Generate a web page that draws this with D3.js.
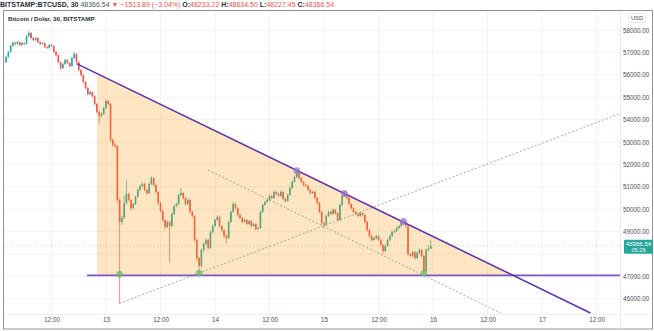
<!DOCTYPE html>
<html><head><meta charset="utf-8">
<script src="https://cdn.jsdelivr.net/npm/d3@7"></script>
<style>body{margin:0;background:#fff;} svg{display:block;font-family:"Liberation Sans",Arial,"DejaVu Sans",sans-serif;}</style>
</head><body><svg id="c" width="654" height="331"></svg>
<script>
// ---------- DATA ----------
const firstBarTime = "2021-05-12T02:00:00Z";   // 30-minute bars
const firstOpen = 56570;
const closes = [
56800,57020,57290,57420,57380,57460,57330,57420,57380,57730,
57870,57640,57550,57640,57460,57380,57420,57240,57200,57330,
57290,57020,56880,56570,56300,56480,56660,56530,56390,56750,
56930,56570,56210,55990,55680,55410,55140,55230,55050,54700,
54340,54160,54250,54520,54830,54700,53090,52870,52820,50410,
49430,49610,50280,50680,50410,50050,50230,50550,50860,51040,
51130,50860,50720,51130,51390,51080,50770,50280,49920,49520,
49210,49430,49250,49790,50140,50230,50630,50720,50500,50230,
50410,49880,49700,48630,47820,47470,48180,48450,48630,48270,
48980,49250,49520,49650,49250,49070,48800,48710,49430,49880,
50230,50050,49740,49610,49430,49520,49340,49470,49250,49340,
49120,49160,49880,50190,50320,50410,50590,50500,50770,50680,
50590,50770,50460,50370,50630,50950,51220,51440,51620,51390,
51220,51080,51040,50860,50720,50770,50500,50280,49880,49380,
49300,49700,49880,49790,49970,49830,49520,50190,50590,50680,
50500,50230,50050,49880,49790,49700,49830,49740,49430,49070,
48800,48630,48710,48800,48630,48400,48130,48360,48630,48800,
48980,49030,49160,49250,49380,49430,49250,48000,47910,48090,
47820,48050,48180,47910,47240,48180,48233.22,48366.54];
const highs = [
56850,57080,57350,57500,57480,57520,57500,57470,57450,57780,
57960,57900,57690,57700,57680,57500,57470,57450,57290,57380,
57370,57310,57060,56900,56600,56530,56720,56700,56560,56800,
57010,56960,56600,56260,56030,55720,55460,55300,55280,55090,
54750,54380,54330,54580,54900,54870,54740,53150,52950,52860,
50500,49700,50600,51300,50740,50450,50300,50600,50920,51100,
51200,51180,50900,51180,51470,51420,51120,50800,50330,49960,
49560,49500,49480,49850,50200,50300,50700,50950,50760,50550,
50470,50450,49930,49740,48680,47870,48250,48520,48700,48680,
49050,49320,49580,49720,49690,49300,49110,48860,49490,49940,
50330,50270,50090,49790,49660,49580,49560,49530,49510,49400,
49380,49230,49940,50250,50380,50480,50650,50640,50830,50810,
50720,50840,50800,50500,50690,51010,51280,51510,51720,51660,
51430,51260,51130,51080,50900,50830,50810,50540,50320,49920,
49420,49760,49940,49920,50030,50010,49870,50250,50650,50770,
50720,50540,50270,50090,49920,49830,49890,49870,49780,49470,
49110,48840,48770,48860,48840,48670,48440,48420,48690,48860,
49040,49090,49220,49310,49440,49530,49470,49290,48060,48150,
48130,48110,48240,48220,47950,48250,48400,48634.50];
const lows = [
56520,56760,56990,57250,57310,57330,57290,57280,57330,57350,
57690,57600,57500,57510,57420,57330,57340,57200,57150,57170,
57250,56980,56830,56520,56200,56260,56440,56480,56330,56360,
56700,56520,56150,55920,55620,55340,55060,55080,54980,54640,
54260,53800,54100,54210,54480,54640,53000,52780,52740,50300,
45800,49300,49550,50200,50350,49950,49990,50180,50500,50800,
50980,50800,50650,50680,51080,51020,50700,50200,49850,49430,
49100,49150,47600,49200,49740,50080,50180,50580,50440,50170,
50180,49820,49620,48550,47700,47170,47400,48100,48380,48200,
48220,48920,49200,49460,49180,49000,48730,48490,48660,49380,
49830,49990,49680,49550,49370,49380,49280,49290,49190,49200,
49060,49060,49110,49830,50140,50270,50360,50440,50460,50620,
50530,50550,50400,50310,50330,50590,50900,51180,51390,51330,
51160,51020,50980,50800,50660,50670,50440,50220,49820,49310,
49150,49250,49650,49730,49740,49770,49460,49470,50140,50540,
50440,50170,49990,49820,49730,49640,49660,49680,49370,49000,
48730,48560,48580,48660,48570,48340,48010,48080,48310,48580,
48750,48930,48990,49110,49200,49330,49190,47930,47840,47860,
47760,47780,48000,47850,47130,47200,48100,48227.45];

const priceTicks = [46000,47000,48000,49000,50000,51000,52000,53000,54000,55000,56000,57000,58000];
const timeTicks = ["2021-05-12T12:00:00Z","2021-05-13T00:00:00Z","2021-05-13T12:00:00Z","2021-05-14T00:00:00Z",
  "2021-05-14T12:00:00Z","2021-05-15T00:00:00Z","2021-05-15T12:00:00Z","2021-05-16T00:00:00Z",
  "2021-05-16T12:00:00Z","2021-05-17T00:00:00Z","2021-05-17T12:00:00Z"];
const timeLabels = ["12:00","13","12:00","14","12:00","15","12:00","16","12:00","17","12:00"];

const supportLevel = 47050;
const supportStart = "2021-05-12T19:50:00Z";
const resistance = [{t:"2021-05-12T17:30:00Z", p:56500},{t:"2021-05-17T10:40:00Z", p:45370}];
const triangleStart = "2021-05-12T22:00:00Z";
const risingDotted = [{t:"2021-05-13T03:00:00Z", p:45800},{t:"2021-05-17T17:00:00Z", p:54250}];
const fallingDotted = [{t:"2021-05-13T22:30:00Z", p:51750},{t:"2021-05-16T14:50:00Z", p:45370}];
const greenTouches = [{t:"2021-05-13T03:00:00Z", p:47100},{t:"2021-05-13T20:30:00Z", p:47150},{t:"2021-05-15T22:00:00Z", p:47150}];
const purpleTouches = [{t:"2021-05-14T18:00:00Z", p:51720},{t:"2021-05-15T04:30:00Z", p:50700},{t:"2021-05-15T17:30:00Z", p:49450}];

const headerParts = [
  {s:"BITSTAMP:BTCUSD, 30", k:"b"},{s:" 48366.54 ", k:"n"},{s:"▼", k:"r"},{s:" −1513.89 (−3.04%) ", k:"r"},
  {s:"O:", k:"b"},{s:"48233.22 ", k:"r"},{s:"H:", k:"b"},{s:"48634.50 ", k:"r"},
  {s:"L:", k:"b"},{s:"48227.45 ", k:"r"},{s:"C:", k:"b"},{s:"48366.54", k:"r"}];
const paneTitle = "Bitcoin / Dolar, 30, BITSTAMP";
const currency = "USD";
const lastPriceText = "48366.54";
const countdown = "05:28";

// ---------- CHART ----------
const UP = "#26a69a", DOWN = "#ef5350";
const svg = d3.select("#c");
const paneL = 4, paneR = 620, paneT = 11, paneB = 314;
const x = d3.scaleUtc().domain([new Date("2021-05-13T00:00:00Z"), new Date("2021-05-17T00:00:00Z")]).range([106, 542]);
const y = d3.scaleLinear().domain([46000, 58000]).range([298.8, 30]);

const t0 = new Date(firstBarTime).getTime();
const bars = closes.map((c, i) => {
  const o = i === 0 ? firstOpen : closes[i - 1];
  return {t: new Date(t0 + i * 1800000), o, c, h: Math.max(highs[i], o, c), l: Math.min(lows[i], o, c)};
});

svg.append("defs").append("clipPath").attr("id","pane").append("rect")
  .attr("x",paneL).attr("y",paneT).attr("width",paneR-paneL).attr("height",paneB-paneT);

// grid
const grid = svg.append("g").attr("clip-path","url(#pane)");
grid.selectAll(".vg").data(timeTicks).join("line")
  .attr("x1",d=>x(new Date(d))).attr("x2",d=>x(new Date(d))).attr("y1",paneT).attr("y2",paneB)
  .attr("stroke","#f0f2f6").attr("stroke-width",1);
grid.selectAll(".hg").data(priceTicks).join("line")
  .attr("x1",paneL).attr("x2",paneR).attr("y1",d=>y(d)).attr("y2",d=>y(d))
  .attr("stroke","#f0f2f6").attr("stroke-width",1);

const plot = svg.append("g").attr("clip-path","url(#pane)");

// current price line
plot.append("line").attr("x1",paneL).attr("x2",paneR)
  .attr("y1",y(closes[closes.length-1])).attr("y2",y(closes[closes.length-1]))
  .attr("stroke",UP).attr("stroke-opacity",0.45).attr("stroke-width",0.8).attr("stroke-dasharray","1,2");

// candles
const cw = 1.6;
const cg = plot.append("g");
cg.selectAll(".wick").data(bars).join("line")
  .attr("x1",d=>x(d.t)).attr("x2",d=>x(d.t)).attr("y1",d=>y(d.h)).attr("y2",d=>y(d.l))
  .attr("stroke",d=>d.c>=d.o?UP:DOWN).attr("stroke-width",0.7);
cg.selectAll(".body").data(bars).join("rect")
  .attr("x",d=>x(d.t)-cw/2).attr("width",cw)
  .attr("y",d=>y(Math.max(d.o,d.c))).attr("height",d=>Math.max(0.8, Math.abs(y(d.o)-y(d.c))))
  .attr("fill",d=>d.c>=d.o?UP:DOWN);

// triangle fill
const rt0 = new Date(resistance[0].t).getTime(), rt1 = new Date(resistance[1].t).getTime();
const resAt = t => resistance[0].p + (resistance[1].p - resistance[0].p) * (t - rt0) / (rt1 - rt0);
const apexT = rt0 + (supportLevel - resistance[0].p) / (resistance[1].p - resistance[0].p) * (rt1 - rt0);
const triT = new Date(triangleStart).getTime();
const tri = [[triT, resAt(triT)], [apexT, supportLevel], [triT, supportLevel]];
plot.append("path").attr("d", d3.line().x(d=>x(new Date(d[0]))).y(d=>y(d[1]))(tri) + "Z")
  .attr("fill","#ff9800").attr("fill-opacity",0.24);

// dotted channel lines
const seg = (pts, g) => g.append("line")
  .attr("x1",x(new Date(pts[0].t))).attr("y1",y(pts[0].p)).attr("x2",x(new Date(pts[1].t))).attr("y2",y(pts[1].p));
seg(risingDotted, plot).attr("stroke","#8a8f9c").attr("stroke-width",0.8).attr("stroke-dasharray","2,2");
seg(fallingDotted, plot).attr("stroke","#8a8f9c").attr("stroke-width",0.8).attr("stroke-dasharray","2,2");

// support & resistance
plot.append("line").attr("x1",x(new Date(supportStart))).attr("x2",paneR)
  .attr("y1",y(supportLevel)).attr("y2",y(supportLevel)).attr("stroke","#7e57c2").attr("stroke-width",1.8);
seg(resistance, plot).attr("stroke","#5e35b1").attr("stroke-width",1.6);

// touch dots
plot.selectAll(".gd").data(greenTouches).join("circle")
  .attr("cx",d=>x(new Date(d.t))).attr("cy",d=>y(d.p)).attr("r",3.4)
  .attr("fill","#66bb6a").attr("fill-opacity",0.75);
plot.selectAll(".pd").data(purpleTouches).join("circle")
  .attr("cx",d=>x(new Date(d.t))).attr("cy",d=>y(d.p)).attr("r",3.4)
  .attr("fill","#9575cd").attr("fill-opacity",0.75);

// frame & separators
svg.append("rect").attr("x",3.5).attr("y",10.5).attr("width",649).attr("height",318.5)
  .attr("fill","none").attr("stroke","#8f939c").attr("stroke-width",1);
svg.append("line").attr("x1",paneR+0.5).attr("x2",paneR+0.5).attr("y1",11).attr("y2",329)
  .attr("stroke","#e8eaef");
svg.append("line").attr("x1",4).attr("x2",652).attr("y1",paneB+0.5).attr("y2",paneB+0.5)
  .attr("stroke","#eef0f4");

// price axis
const lastY = y(closes[closes.length-1]);
const yAxis = svg.append("g").attr("transform",`translate(${paneR+3},0)`)
  .call(d3.axisRight(y).tickValues(priceTicks.filter(p => Math.abs(y(p)-lastY-1.5) > 9))
    .tickFormat(d3.format(".2f")).tickSize(0));
yAxis.select(".domain").remove();
yAxis.selectAll("text").attr("font-size",6.3).attr("fill","#4a4e59").attr("x",0)
  .attr("font-family","Liberation Sans, Arial, sans-serif");

// time axis
const xAxis = svg.append("g").attr("transform",`translate(0,${paneB})`)
  .call(d3.axisBottom(x).tickValues(timeTicks.map(d=>new Date(d))).tickFormat((d,i)=>timeLabels[i]).tickSize(0));
xAxis.select(".domain").remove();
xAxis.selectAll("text").attr("font-size",6.3).attr("fill","#4a4e59").attr("dy","0.6em").attr("y",4)
  .attr("font-family","Liberation Sans, Arial, sans-serif");

// last price label
svg.append("rect").attr("x",paneR+4).attr("y",lastY-6).attr("width",29).attr("height",14)
  .attr("fill",UP).attr("rx",1);
svg.append("text").attr("x",paneR+18.5).attr("y",lastY+0.5).attr("text-anchor","middle")
  .attr("font-size",6.1).attr("fill","#fff").text(lastPriceText);
svg.append("text").attr("x",paneR+18.5).attr("y",lastY+6.5).attr("text-anchor","middle")
  .attr("font-size",5.6).attr("fill","#e6f5f3").text(countdown);

// currency box
svg.append("rect").attr("x",628.5).attr("y",13.5).attr("width",17).attr("height",9)
  .attr("fill","#fff").attr("stroke","#dfe1e6").attr("stroke-width",0.8).attr("rx",1);
svg.append("text").attr("x",637).attr("y",20.2).attr("text-anchor","middle")
  .attr("font-size",5.8).attr("fill","#4a4e59").text(currency);

// pane title
svg.append("text").attr("x",8).attr("y",21).attr("font-size",6.2).attr("font-weight","bold")
  .attr("fill","#2a2e39").text(paneTitle);

// header
const ht = svg.append("text").attr("x",0).attr("y",6.8).attr("font-size",7.0);
headerParts.forEach(p => ht.append("tspan").text(p.s)
  .attr("font-weight", p.k==="b" ? "bold" : "normal")
  .attr("fill", p.k==="r" ? DOWN : (p.k==="b" ? "#2a2e39" : "#50535e")));
ht.attr("style","white-space:pre");
</script></body></html>
